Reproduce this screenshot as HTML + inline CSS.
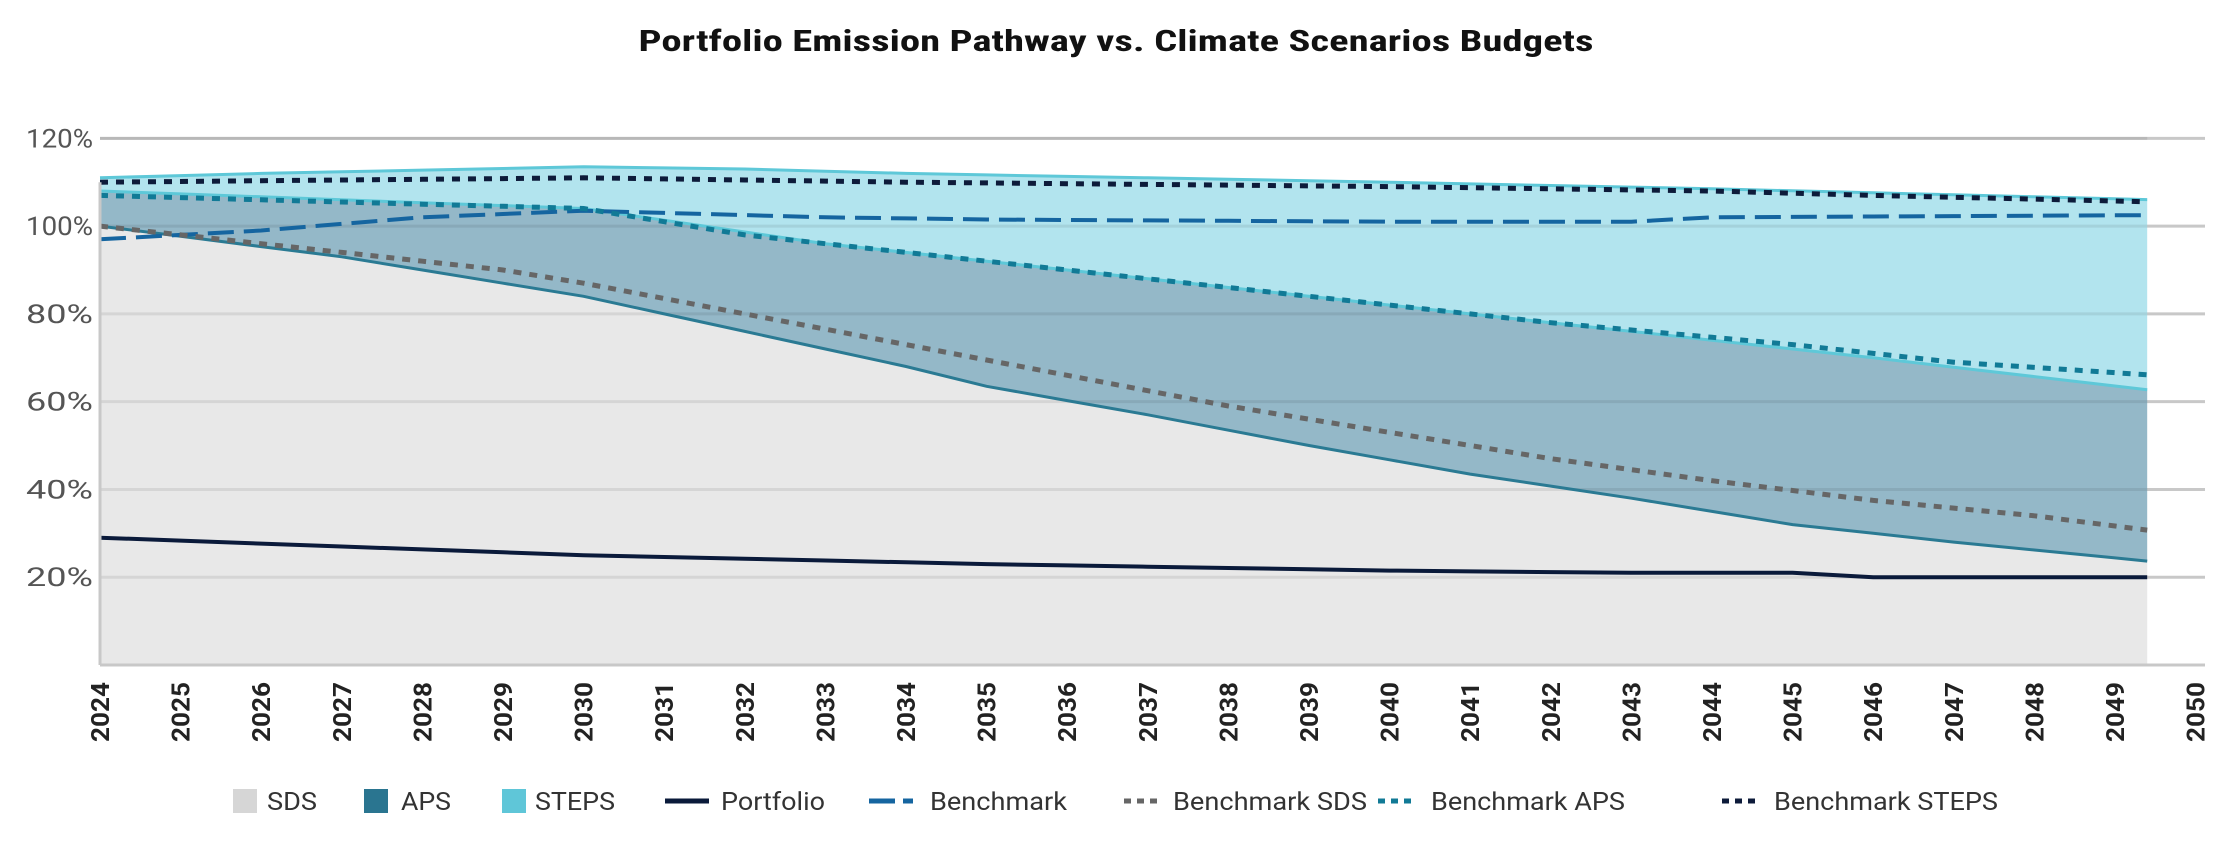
<!DOCTYPE html>
<html><head><meta charset="utf-8"><style>
html,body{margin:0;padding:0;background:#fff;width:2238px;height:853px;overflow:hidden}
text{font-family:"Roboto","Liberation Sans",sans-serif}
</style></head><body>
<svg id="s" width="2238" height="853" xmlns="http://www.w3.org/2000/svg">
<text x="1116" y="51" text-anchor="middle" font-size="30" font-weight="bold" fill="#111" textLength="955" lengthAdjust="spacingAndGlyphs" style="font-family:'Roboto Condensed','Liberation Sans',sans-serif">Portfolio Emission Pathway vs. Climate Scenarios Budgets</text>
<g id="grid"></g>
<g id="fills"></g>
<g id="lines"></g>
<g id="axes"></g>
<g font-size="25" fill="#333">
<rect x="233" y="789" width="24" height="24" fill="#d6d6d6"/><text x="267" y="810" textLength="50" lengthAdjust="spacingAndGlyphs">SDS</text>
<rect x="364" y="789" width="24" height="24" fill="#2a7590"/><text x="401" y="810" textLength="50" lengthAdjust="spacingAndGlyphs">APS</text>
<rect x="502" y="789" width="24" height="24" fill="#5fc6d8"/><text x="535" y="810" textLength="80" lengthAdjust="spacingAndGlyphs">STEPS</text>
<line x1="665" y1="801" x2="709" y2="801" stroke="#0a1a3a" stroke-width="5"/><text x="721" y="810" textLength="104" lengthAdjust="spacingAndGlyphs">Portfolio</text>
<line x1="869" y1="801" x2="913" y2="801" stroke="#1565a0" stroke-width="5" stroke-dasharray="26 8"/><text x="930" y="810" textLength="137" lengthAdjust="spacingAndGlyphs">Benchmark</text>
<line x1="1124" y1="801" x2="1160" y2="801" stroke="#666" stroke-width="5" stroke-dasharray="7 6"/><text x="1173" y="810" textLength="194" lengthAdjust="spacingAndGlyphs">Benchmark SDS</text>
<line x1="1378" y1="801" x2="1416" y2="801" stroke="#117a96" stroke-width="5" stroke-dasharray="7 6"/><text x="1431" y="810" textLength="194" lengthAdjust="spacingAndGlyphs">Benchmark APS</text>
<line x1="1722" y1="801" x2="1760" y2="801" stroke="#0d1b3a" stroke-width="5" stroke-dasharray="7 6"/><text x="1774" y="810" textLength="224" lengthAdjust="spacingAndGlyphs">Benchmark STEPS</text>
</g>
</svg>
<script>
const X=y=>100+(y-2024)*80.6, Y=v=>665-v*4.389;
const END=2049.4;
const ns="http://www.w3.org/2000/svg";
function el(p,t,a,txt){const e=document.createElementNS(ns,t);for(const k in a)e.setAttribute(k,a[k]);if(txt)e.textContent=txt;document.getElementById(p).appendChild(e);return e;}
function interp(pts){const yrs=[];for(let y=2024;y<=2049;y++)yrs.push(y);yrs.push(END);
 return yrs.map(y=>{for(let i=0;i<pts.length-1;i++){const[a,va]=pts[i],[b,vb]=pts[i+1];if(y>=a&&y<=b)return[y,va+(vb-va)*(y-a)/(b-a)];}return[y,pts[pts.length-1][1]];});}
const stepsTop=interp([[2024,111],[2026,112],[2030,113.5],[2032,113],[2034,112],[2040,110],[2044,108.5],[2049.5,106]]);
const apsTop=interp([[2024,108],[2030,104],[2033,96],[2035,92],[2038,86],[2041,80],[2044,74],[2046,70],[2049.5,62.5]]);
const sdsTop=interp([[2024,100],[2027,93],[2030,84],[2032,76],[2034,68],[2035,63.5],[2037,57],[2039,50],[2041,43.5],[2043,38],[2045,32],[2047,28],[2049.5,23.5]]);
const port=interp([[2024,29],[2030,25],[2035,23],[2040,21.5],[2043,21],[2045,21],[2046,20],[2049.5,20]]);
const bm=interp([[2024,97],[2026,99],[2028,102],[2030,103.5],[2033,102],[2035,101.5],[2040,101],[2043,101],[2044,102],[2049.5,102.5]]);
const bsds=interp([[2024,100],[2029,90],[2030,87],[2032,80],[2034,73],[2036,66],[2038,59],[2040,53],[2042,47],[2044,42],[2046,37.5],[2048,34],[2049.5,30.5]]);
const baps=interp([[2024,107],[2030,104],[2032,98],[2035,92],[2038,86],[2040,82],[2042,78],[2045,73],[2047,69],[2049.5,66]]);
const bst=interp([[2024,110],[2030,111],[2034,110],[2040,109],[2044,108],[2046,107],[2049.5,105.5]]);
const P=a=>a.map(([x,v])=>X(x).toFixed(1)+","+Y(v).toFixed(1)).join(" ");
const band=(t,b)=>P(t)+" "+P(b.slice().reverse());
for(let v=20;v<=120;v+=20){el("grid","line",{x1:100,x2:2205,y1:Y(v),y2:Y(v),stroke:"#c8c8c8","stroke-width":3});
 el("axes","text",{x:93,y:Y(v)+9,"text-anchor":"end","font-size":26,fill:"#555",textLength:67,lengthAdjust:"spacingAndGlyphs"},v+"%");}
el("fills","polygon",{points:P(sdsTop)+" "+X(END)+","+Y(0)+" "+X(2024)+","+Y(0),fill:"#e8e8e8"});
el("fills","polygon",{points:band(apsTop,sdsTop),fill:"#94b8c8"});
el("fills","polygon",{points:band(stepsTop,apsTop),fill:"#b2e4ee"});
for(let v=20;v<=120;v+=20)el("fills","line",{x1:100,x2:X(END),y1:Y(v),y2:Y(v),stroke:"rgba(0,0,0,0.08)","stroke-width":3});
const L=(a,c,w,d)=>el("lines","polyline",{points:P(a),fill:"none",stroke:c,"stroke-width":w,"stroke-dasharray":d||"none"});
L(stepsTop,"#5ec8d8",3);L(apsTop,"#5ec8d8",3);L(sdsTop,"#2a7a93",3);
L(port,"#0a1a3a",4);L(bm,"#1565a0",4,"26 10");L(bsds,"#666",5,"8 8");L(baps,"#117a96",5,"8 8");L(bst,"#0d1b3a",5,"8 8");
el("axes","line",{x1:100,x2:2205,y1:665,y2:665,stroke:"#c8c8c8","stroke-width":3});
el("axes","line",{x1:100,x2:100,y1:Y(110),y2:665,stroke:"#c8c8c8","stroke-width":3});
for(let y=2024;y<=2050;y++){const x=X(y)+9;el("axes","text",{x:x,y:682,transform:`rotate(-90 ${x} 682)`,"text-anchor":"end","font-size":25,"font-weight":"bold",fill:"#222",textLength:60,lengthAdjust:"spacingAndGlyphs"},String(y));}
</script>
</body></html>
